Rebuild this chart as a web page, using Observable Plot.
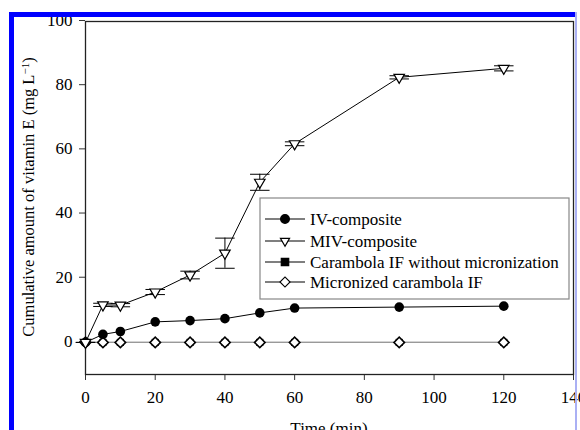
<!DOCTYPE html>
<html><head><meta charset="utf-8">
<script src="https://cdn.jsdelivr.net/npm/d3@7"></script>
<script src="https://cdn.jsdelivr.net/npm/@observablehq/plot@0.6"></script>
<style>
html,body{margin:0;padding:0;background:#fff;}
#wrap{position:relative;width:580px;height:430px;overflow:hidden;background:#fff;}
.band{position:absolute;}
</style></head><body>
<div id="wrap"></div>
<script>
// ---- data ----
const times = [0, 5, 10, 20, 30, 40, 50, 60, 90, 120];
const ivComposite = [0, 2.5, 3.4, 6.4, 6.8, 7.4, 9.2, 10.7, 11.0, 11.3];
const mivComposite = [0, 11.7, 11.6, 15.7, 21.0, 27.8, 49.9, 61.9, 82.6, 85.4];
const mivError = [0, 0.5, 0.5, 0.8, 1.2, 4.7, 2.5, 0.6, 0.5, 0.8];
const carambolaIF = [0, 0, 0, 0, 0, 0, 0, 0, 0, 0];
const micronizedIF = [0, 0, 0, 0, 0, 0, 0, 0, 0, 0];
const seriesNames = ["IV-composite", "MIV-composite", "Carambola IF without micronization", "Micronized carambola IF"];
const xTicks = [0, 20, 40, 60, 80, 100, 120, 140];
const yTicks = [0, 20, 40, 60, 80, 100];
const xTitle = "Time (min)";
const yTitle = "Cumulative amount of vitamin E (mg L";

const rows = (vals, errs) => times.map((t, i) => ({t, v: vals[i], e: errs ? errs[i] : 0}));
const ivRows = rows(ivComposite);
const mivRows = rows(mivComposite, mivError);
const carRows = rows(carambolaIF);
const micRows = rows(micronizedIF);

const capSymbol = {draw(ctx, size) { const w = Math.sqrt(size); ctx.moveTo(-w, 0); ctx.lineTo(w, 0); }};
const FONT = "'Liberation Serif', 'Times New Roman', serif";

const plot = Plot.plot({
  width: 580, height: 430,
  marginLeft: 85, marginRight: 7, marginTop: 21, marginBottom: 56,
  style: {fontFamily: FONT, fontSize: "17px", color: "#000", background: "#fff"},
  x: {domain: [0, 140], label: null},
  y: {domain: [-10, 100], label: null},
  marks: [
    Plot.axisX({ticks: xTicks, tickSize: 6, tickPadding: 10, label: null, stroke: "#333", tickFormat: d => String(d)}),
    Plot.axisY({ticks: yTicks, tickSize: 6, tickPadding: 7, label: null, stroke: "#333", dy: -1, tickFormat: d => String(d)}),
    Plot.frame({stroke: "#222", strokeWidth: 1.3}),
    Plot.line(carRows, {x: "t", y: "v", stroke: "#000", strokeWidth: 1}),
    Plot.line(micRows, {x: "t", y: "v", stroke: "#999", strokeWidth: 1.2}),
    Plot.line(ivRows, {x: "t", y: "v", stroke: "#000", strokeWidth: 1}),
    Plot.line(mivRows, {x: "t", y: "v", stroke: "#000", strokeWidth: 1}),
    Plot.ruleX(mivRows, {x: "t", y1: d => d.v - d.e, y2: d => d.v + d.e, stroke: "#000", strokeWidth: 1}),
    Plot.dot(mivRows, {x: "t", y: d => d.v - d.e, symbol: capSymbol, r: 5.5, stroke: "#000", strokeWidth: 1}),
    Plot.dot(mivRows, {x: "t", y: d => d.v + d.e, symbol: capSymbol, r: 5.5, stroke: "#000", strokeWidth: 1}),
    Plot.dot(carRows, {x: "t", y: "v", symbol: "square", fill: "#000", r: 4}),
    Plot.dot(micRows, {x: "t", y: "v", symbol: "square", rotate: 45, fill: "#fff", stroke: "#000", strokeWidth: 1.6, r: 4.2}),
    Plot.dot(ivRows, {x: "t", y: "v", fill: "#000", r: 4.8}),
    Plot.dot(mivRows, {x: "t", y: "v", symbol: "triangle", rotate: 180, fill: "#fff", stroke: "#000", strokeWidth: 1.2, r: 3.9})
  ]
});

const svg = d3.select(plot);
// axis titles
const yt = svg.append("text")
  .attr("transform", "translate(34,197) rotate(-90)")
  .attr("text-anchor", "middle")
  .attr("font-family", FONT).attr("font-size", 16.5).attr("fill", "#000");
yt.append("tspan").text(yTitle);
yt.append("tspan").attr("dy", "-0.45em").attr("font-size", 11).text("−1");
yt.append("tspan").attr("dy", "0.3em").text(")");
svg.append("text").attr("x", 329).attr("y", 434).attr("text-anchor", "middle")
  .attr("font-family", FONT).attr("font-size", 17).attr("fill", "#000").text(xTitle);

// legend
const lg = svg.append("g").attr("text-anchor", "start");
lg.append("rect").attr("x", 260).attr("y", 198).attr("width", 309).attr("height", 101)
  .attr("fill", "#fff").attr("stroke", "#888").attr("stroke-width", 1.2);
const ys = [219, 241, 262, 282];
const legendSyms = [
  {type: d3.symbolCircle, size: 60, fill: "#000", rot: 0},
  {type: d3.symbolTriangle, size: 36, fill: "#fff", rot: 180},
  {type: d3.symbolSquare, size: 55, fill: "#000", rot: 0},
  {type: d3.symbolSquare, size: 50, fill: "#fff", rot: 45}
];
seriesNames.forEach((name, i) => {
  const y = ys[i];
  lg.append("line").attr("x1", 265).attr("x2", 305).attr("y1", y).attr("y2", y).attr("stroke", "#000").attr("stroke-width", 1.2);
  const s = legendSyms[i];
  lg.append("path").attr("d", d3.symbol(s.type, s.size)())
    .attr("transform", `translate(285,${y}) rotate(${s.rot})`)
    .attr("fill", s.fill).attr("stroke", "#000").attr("stroke-width", 1.2);
  lg.append("text").attr("x", 310).attr("y", y).attr("dy", "0.35em").attr("text-anchor", "start")
    .attr("font-family", FONT).attr("font-size", 17).attr("fill", "#000").text(name);
});

const wrap = document.getElementById("wrap");
wrap.appendChild(plot);
plot.style.position = "absolute"; plot.style.left = "0"; plot.style.top = "0";
// blue frame decoration
[["9px","12px","566px","5px","#0000ff"],["9px","12px","5px","418px","#0000ff"],["575px","12px","2px","418px","#aab0f4"]].forEach(([l,t,w,h,c]) => {
  const d = document.createElement("div");
  d.className = "band";
  Object.assign(d.style, {left: l, top: t, width: w, height: h, background: c});
  wrap.appendChild(d);
});
</script>
</body></html>
